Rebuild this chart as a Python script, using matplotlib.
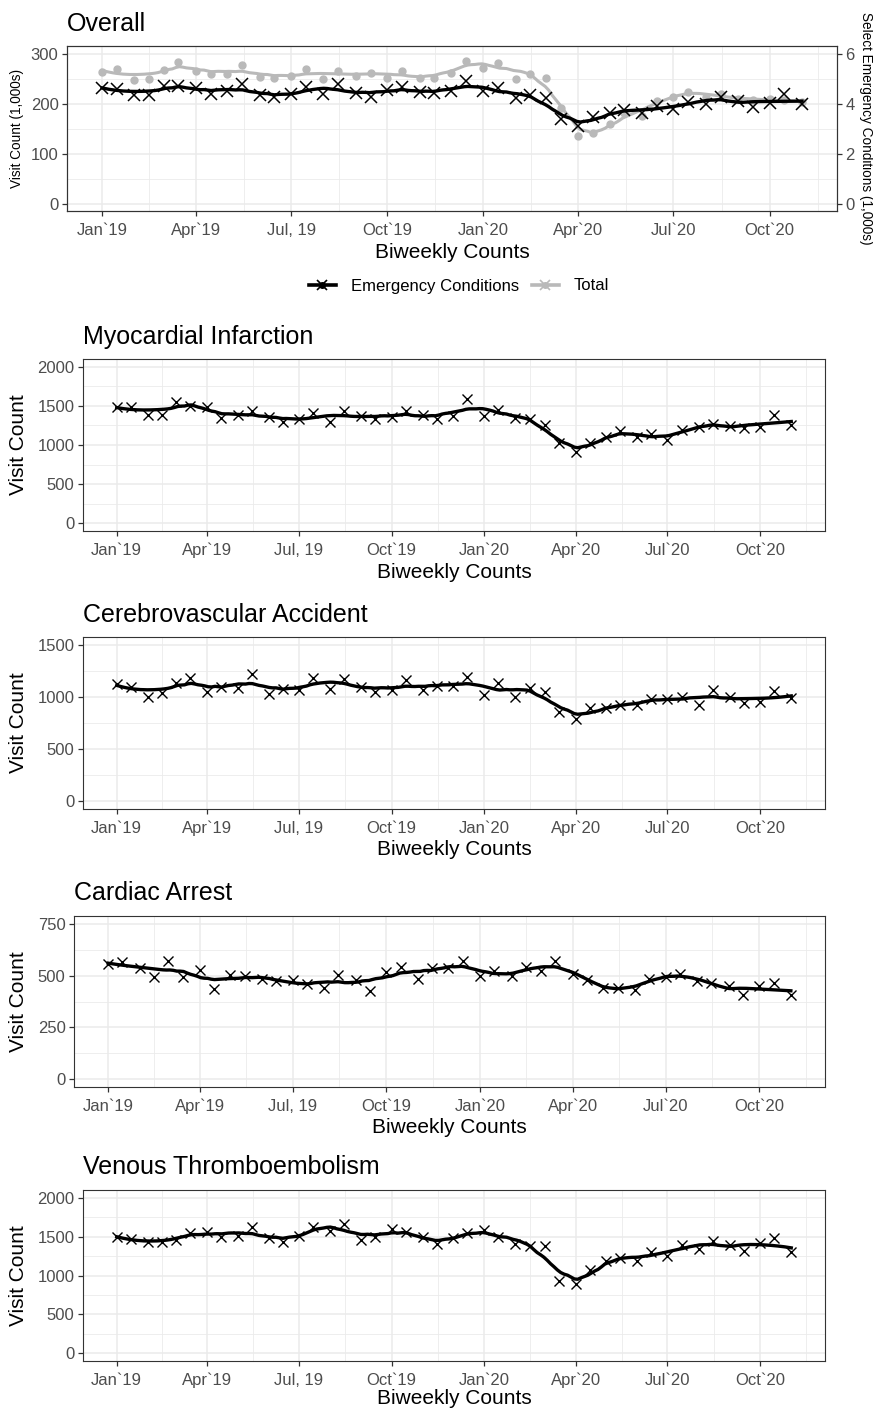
import numpy as np
import pandas as pd
import matplotlib
matplotlib.use("Agg")
import matplotlib.pyplot as plt
import matplotlib.dates as mdates
from matplotlib.lines import Line2D
from matplotlib.legend_handler import HandlerTuple

plt.rcParams['font.family'] = ['Liberation Sans', 'DejaVu Sans']

# Semi-monthly periods, Jan 2019 - Nov 2020
dates = pd.date_range('2019-01-01', periods=45, freq='SMS')
tick_dates = pd.date_range('2019-01-01', '2021-01-01', freq='QS')
tick_labels = ["Jan`19", "Apr`19", "Jul, 19", "Oct`19", "Jan`20", "Apr`20", "Jul`20", "Oct`20"]

# Overall panel: total visits (1,000s, left axis) and select emergency conditions (1,000s, right axis)
total = [264, 270, 247, 249, 268, 283, 266, 259, 260, 277, 254, 252, 255, 269, 249,
         266, 256, 262, 252, 266, 251, 252, 262, 285, 272, 282, 249, 260, 252, 191,
         136, 142, 159, 182, 176, 205, 214, 224, 213, 219, 209, 207, 209, 207, 203]
emergency = [4.64, 4.58, 4.34, 4.34, 4.70, 4.72, 4.61, 4.38, 4.52, 4.77, 4.34, 4.25, 4.38, 4.68, 4.38,
             4.77, 4.41, 4.28, 4.54, 4.68, 4.45, 4.40, 4.52, 4.90, 4.48, 4.61, 4.21, 4.34, 4.21, 3.38,
             3.09, 3.46, 3.62, 3.75, 3.62, 3.91, 3.77, 4.08, 3.99, 4.28, 4.12, 3.85, 4.04, 4.37, 3.97]

# Condition panels: visit counts
mi = [1480, 1490, 1380, 1390, 1555, 1500, 1490, 1340, 1380, 1440, 1360, 1300, 1330, 1410, 1290,
      1440, 1370, 1330, 1360, 1440, 1380, 1330, 1370, 1590, 1370, 1450, 1340, 1330, 1260, 1030,
      910, 1020, 1100, 1180, 1100, 1140, 1060, 1190, 1230, 1270, 1240, 1220, 1230, 1380, 1260]
cva = [1120, 1100, 1000, 1040, 1130, 1180, 1050, 1100, 1090, 1220, 1030, 1080, 1070, 1180, 1080,
       1175, 1100, 1050, 1070, 1165, 1065, 1105, 1105, 1195, 1020, 1135, 1000, 1090, 1050, 860,
       790, 890, 895, 920, 920, 980, 980, 1000, 925, 1065, 1000, 940, 950, 1055, 990]
ca = [555, 565, 535, 495, 570, 495, 525, 435, 505, 500, 482, 475, 478, 458, 440,
      503, 480, 428, 516, 540, 485, 535, 537, 572, 497, 520, 500, 540, 520, 570,
      508, 480, 442, 442, 432, 485, 493, 508, 472, 466, 450, 408, 448, 464, 408]
vte = [1500, 1470, 1425, 1435, 1455, 1550, 1560, 1500, 1510, 1625, 1480, 1430, 1510, 1630, 1575,
       1665, 1455, 1500, 1595, 1560, 1490, 1405, 1480, 1545, 1580, 1500, 1405, 1385, 1385, 935,
       885, 1065, 1190, 1225, 1190, 1305, 1255, 1395, 1340, 1445, 1390, 1320, 1413, 1480, 1305]

panels = [("Myocardial Infarction", mi, [0, 500, 1000, 1500, 2000]),
          ("Cerebrovascular Accident", cva, [0, 500, 1000, 1500]),
          ("Cardiac Arrest", ca, [0, 250, 500, 750]),
          ("Venous Thromboembolism", vte, [0, 500, 1000, 1500, 2000])]

GRAY = '#B9B9B9'
TICKCOL = '#4D4D4D'
W, H = 873, 1410


def loess(x, y, span=0.2):
    # local quadratic fit with tricube weights (like R's loess)
    x = np.asarray(x, float)
    y = np.asarray(y, float)
    n = len(x)
    q = int(np.floor(n * span))
    grid = np.linspace(x.min(), x.max(), 200)
    out = []
    for x0 in grid:
        d = np.abs(x - x0)
        h = np.sort(d)[q - 1] * 1.0001
        w = np.clip(1 - (d / h) ** 3, 0, None) ** 3
        A = np.vstack([np.ones(n), x - x0, (x - x0) ** 2]).T
        sw = np.sqrt(w)
        coef = np.linalg.lstsq(A * sw[:, None], y * sw, rcond=None)[0]
        out.append(coef[0])
    return grid, np.array(out)


def rect(l, r, t, b):
    return [l / W, 1 - b / H, (r - l) / W, (b - t) / H]


def fx(x):
    return x / W


def fy(y):
    return 1 - y / H


xnum = mdates.date2num(dates)
xt = mdates.date2num(tick_dates)
xrange_ = xnum[-1] - xnum[0]
xlims = (xnum[0] - 0.05 * xrange_, xnum[-1] + 0.05 * xrange_)
xminor = (xt[:-1] + xt[1:]) / 2


def style(ax, yticks):
    ax.set_xlim(*xlims)
    ax.set_xticks(xt[:-1])
    ax.set_xticklabels(tick_labels)
    ax.set_xticks(xminor, minor=True)
    yr = yticks[-1] - yticks[0]
    ax.set_ylim(yticks[0] - 0.05 * yr, yticks[-1] + 0.05 * yr)
    ax.set_yticks(yticks)
    ax.set_yticks([(a + b) / 2 for a, b in zip(yticks[:-1], yticks[1:])], minor=True)
    ax.grid(True, which='major', color='#EBEBEB', lw=1.1)
    ax.grid(True, which='minor', color='#EBEBEB', lw=0.6)
    ax.set_axisbelow(True)
    ax.tick_params(which='major', length=3.6, width=0.9, color='#333333',
                   labelsize=12, labelcolor=TICKCOL, pad=2.5)
    # put x tick labels on a common baseline
    ax.tick_params(axis='x', which='major', pad=13.6)
    for lab in ax.get_xticklabels():
        lab.set_verticalalignment('baseline')
    ax.tick_params(which='minor', length=0)
    for s in ax.spines.values():
        s.set_color('#333333')
        s.set_linewidth(0.8)


# ---------------- Overall panel ----------------
fig = plt.figure(figsize=(W / 100, H / 100), dpi=100)
ax0 = fig.add_axes(rect(67, 837, 46, 211))
style(ax0, [0, 100, 200, 300])
ax0.plot(xnum, total, 'o', color=GRAY, ms=5, zorder=3)
gx, gy = loess(xnum, total)
ax0.plot(gx, gy, color=GRAY, lw=2.2, zorder=4)

ax0r = ax0.twinx()
ax0r.set_ylim(-0.3, 6.3)
ax0r.set_yticks([0, 2, 4, 6])
ax0r.tick_params(length=3.6, width=0.9, color='#333333', labelsize=12, labelcolor=TICKCOL, pad=2.5)
for s in ax0r.spines.values():
    s.set_color('#333333')
    s.set_linewidth(0.8)
ax0r.plot(xnum, emergency, 'x', color='black', ms=8, mew=1.1, zorder=3)
ex, ey = loess(xnum, emergency)
ax0r.plot(ex, ey, color='black', lw=2.4, zorder=4)

fig.text(fx(67), fy(31), "Overall", fontsize=18, va='baseline', ha='left')
fig.text(fx(452), fy(258), "Biweekly Counts", fontsize=15, va='baseline', ha='center')
fig.text(fx(17), fy(128), "Visit Count (1,000s)", fontsize=9.8, rotation=90, va='center', ha='center')
fig.text(fx(866), fy(128), "Select Emergency Conditions (1,000s)", fontsize=9.8,
         rotation=270, va='center', ha='center')

# legend
h_em = (Line2D([], [], color='black', lw=2.6), Line2D([], [], ls='', marker='o', color='black', ms=4),
        Line2D([], [], ls='', marker='x', color='black', ms=7, mew=1.2))
h_tot = (Line2D([], [], color=GRAY, lw=2.6), Line2D([], [], ls='', marker='o', color=GRAY, ms=4),
         Line2D([], [], ls='', marker='x', color=GRAY, ms=7, mew=1.2))
fig.legend([h_em, h_tot], ["Emergency Conditions", "Total"], ncol=2, loc='center',
           bbox_to_anchor=(fx(459), fy(286)), frameon=False, fontsize=12,
           handler_map={tuple: HandlerTuple(ndivide=1)}, handlelength=1.6,
           handletextpad=0.9, columnspacing=0.8)

# ---------------- Condition panels ----------------
boxes = [(83, 825, 359, 531, 344, 578),
         (83, 825, 637, 809, 622, 855),
         (74, 825, 916, 1087, 900, 1133),
         (83, 825, 1190, 1361, 1174, 1404)]

for (title, vals, yticks), (l, r, t, b, tb, xb) in zip(panels, boxes):
    ax = fig.add_axes(rect(l, r, t, b))
    style(ax, yticks)
    ax.plot(xnum, vals, 'x', color='black', ms=7.5, mew=1.0, zorder=3)
    sx, sy = loess(xnum, vals)
    ax.plot(sx, sy, color='black', lw=2.4, zorder=4)
    fig.text(fx(l), fy(tb), title, fontsize=18, va='baseline', ha='left')
    fig.text(fx((l + r) / 2), fy(xb), "Biweekly Counts", fontsize=15, va='baseline', ha='center')
    fig.text(fx(19), fy((t + b) / 2), "Visit Count", fontsize=15, rotation=90, va='center', ha='center')

fig.savefig("out.png", dpi=100)
